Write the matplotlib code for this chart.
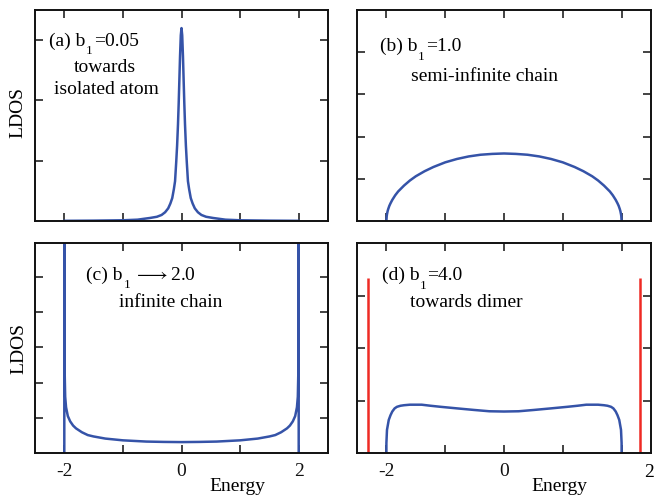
import matplotlib

matplotlib.use("Agg")
import matplotlib.pyplot as plt
from matplotlib.transforms import blended_transform_factory

plt.rcParams["font.family"] = ["Liberation Serif", "DejaVu Serif"]
plt.rcParams["mathtext.fontset"] = "stix"
plt.rcParams["axes.unicode_minus"] = False

BLUE = "#3553a8"
RED = "#ee2a24"
INK = "#111111"
FS = 14
SUB = 9.5

# (a) b1 = 0.05, towards isolated atom
energy_a = [-2.0, -1.5, -1.0, -0.75, -0.54, -0.42, -0.34, -0.28, -0.227, -0.19,
            -0.158, -0.13, -0.11, -0.09, -0.075, -0.06, -0.048, -0.037, -0.025,
            -0.012, 0.0, 0.012, 0.025, 0.037, 0.048, 0.06, 0.075, 0.09, 0.11,
            0.13, 0.158, 0.19, 0.227, 0.28, 0.34, 0.42, 0.54, 0.75, 1.0, 1.5, 2.0]
ldos_a = [0.003, 0.006, 0.012, 0.022, 0.05, 0.07, 0.10, 0.145, 0.21, 0.29,
          0.38, 0.53, 0.66, 0.98, 1.25, 1.6, 1.95, 2.32, 2.73,
          3.08, 3.2, 3.08, 2.73, 2.32, 1.95, 1.6, 1.25, 0.98, 0.66,
          0.53, 0.38, 0.29, 0.21, 0.145, 0.10, 0.07, 0.05, 0.022, 0.012, 0.006, 0.003]

# (b) b1 = 1.0, semi-infinite chain
energy_b = [-2.0, -1.995, -1.99, -1.98, -1.97, -1.95, -1.93, -1.9, -1.85, -1.8,
            -1.7, -1.6, -1.5, -1.35, -1.2, -1.0, -0.8, -0.6, -0.4, -0.2, 0.0,
            0.2, 0.4, 0.6, 0.8, 1.0, 1.2, 1.35, 1.5, 1.6, 1.7, 1.8, 1.85, 1.9,
            1.93, 1.95, 1.97, 1.98, 1.99, 1.995, 2.0]
ldos_b = [0.0, 0.11, 0.16, 0.23, 0.28, 0.36, 0.42, 0.50, 0.61, 0.70,
          0.84, 0.96, 1.06, 1.18, 1.28, 1.39, 1.47, 1.53, 1.57, 1.59, 1.60,
          1.59, 1.57, 1.53, 1.47, 1.39, 1.28, 1.18, 1.06, 0.96, 0.84, 0.70, 0.61, 0.50,
          0.42, 0.36, 0.28, 0.23, 0.16, 0.11, 0.0]

# (c) b1 -> 2.0, infinite chain
energy_c = [-2.0, -2.0, -1.995, -1.985, -1.97, -1.94, -1.9, -1.85, -1.8, -1.7,
            -1.6, -1.5, -1.3, -1.0, -0.6, -0.3, 0.0, 0.3, 0.6, 1.0, 1.3, 1.5,
            1.6, 1.7, 1.8, 1.85, 1.9, 1.94, 1.97, 1.985, 1.995, 2.0, 2.0]
ldos_c = [0.0, 6.5, 2.4, 1.6, 1.3, 1.05, 0.90, 0.78, 0.70, 0.59,
          0.51, 0.47, 0.41, 0.36, 0.325, 0.315, 0.31, 0.315, 0.325, 0.36, 0.41, 0.47,
          0.51, 0.59, 0.70, 0.78, 0.90, 1.05, 1.3, 1.6, 2.4, 6.5, 0.0]

# (d) b1 = 4.0, towards dimer
energy_d = [-2.0, -2.0, -1.99, -1.96, -1.93, -1.90, -1.86, -1.82, -1.76, -1.70,
            -1.6, -1.4, -1.25, -1.08, -0.8, -0.51, -0.25, 0.0, 0.25, 0.51, 0.8,
            1.08, 1.25, 1.4, 1.6, 1.70, 1.76, 1.82, 1.86, 1.90, 1.93, 1.96, 1.99,
            2.0, 2.0]
ldos_d = [0.0, 0.19, 0.44, 0.63, 0.72, 0.79, 0.85, 0.88, 0.90, 0.91,
          0.92, 0.92, 0.90, 0.88, 0.85, 0.82, 0.795, 0.79, 0.795, 0.82, 0.85,
          0.88, 0.90, 0.92, 0.92, 0.91, 0.90, 0.88, 0.85, 0.79, 0.72, 0.63, 0.44,
          0.19, 0.0]
bound_e = [-2.31, 2.31]
bound_h = [3.33, 3.33]

xticks = [-2, -1, 0, 1, 2]
xlabels = ["-2", "", "0", "", "2"]

W, H = 655, 496


def box(x0, y0, x1, y1):
    return [x0 / W, 1 - y1 / H, (x1 - x0) / W, (y1 - y0) / H]


def _style(ax, ytop, yticks, labels=None):
    ax.set_xlim(-2.5, 2.5)
    ax.set_ylim(0, ytop)
    ax.set_xticks(xticks)
    ax.set_xticklabels(labels if labels else [""] * len(xticks))
    ax.set_yticks(yticks)
    ax.set_yticklabels([])
    ax.tick_params(direction="in", top=True, right=True, length=6, width=1.1,
                   labelsize=FS, colors=INK, pad=7)
    for s in ax.spines.values():
        s.set_linewidth(1.4)
        s.set_color(INK)


def _label(ax, x, y, pre, sub, post, gap=0.4):
    # "b" with a low-set subscript, then the rest on the main baseline
    t = ax.text(x, y, pre, transform=ax.transAxes, fontsize=FS, va="baseline")
    s = ax.annotate(sub, xy=(1, 0), xycoords=t, xytext=(0.6, -1.3),
                    textcoords="offset points", fontsize=SUB, va="center")
    ax.annotate(post, xy=(1, 0), xycoords=(s, t), xytext=(gap, 0),
                textcoords="offset points", fontsize=FS, va="bottom")


fig = plt.figure(figsize=(6.55, 4.96), dpi=100)
ax_a = fig.add_axes(box(35, 10, 328, 221))
ax_b = fig.add_axes(box(357, 10, 651, 221))
ax_c = fig.add_axes(box(35, 243, 328, 453))
ax_d = fig.add_axes(box(357, 243, 651, 453))

ax_a.plot(energy_a, ldos_a, color=BLUE, lw=1.8)
_style(ax_a, 3.5, [1, 2, 3])
_label(ax_a, 0.048, 0.832, "(a) b", "1", "=0.05")
ax_a.text(0.24, 0.708, "towards", transform=ax_a.transAxes, fontsize=FS, va="baseline", ha="center")
ax_a.text(0.243, 0.600, "isolated atom", transform=ax_a.transAxes, fontsize=FS, va="baseline", ha="center")

ax_b.plot(energy_b, ldos_b, color=BLUE, lw=1.8)
_style(ax_b, 5.0, [1, 2, 3, 4])
_label(ax_b, 0.078, 0.807, "(b) b", "1", "=1.0")
ax_b.text(0.184, 0.664, "semi-infinite chain", transform=ax_b.transAxes, fontsize=FS, va="baseline")

ax_c.plot(energy_c, ldos_c, color=BLUE, lw=1.8)
_style(ax_c, 5.97, [1, 2, 3, 4, 5], xlabels)
_label(ax_c, 0.174, 0.826, "(c) b", "1", r"$\longrightarrow$2.0", gap=3.0)
ax_c.text(0.288, 0.694, "infinite chain", transform=ax_c.transAxes, fontsize=FS, va="baseline")

ax_d.plot(energy_d, ldos_d, color=BLUE, lw=1.8)
ax_d.vlines(bound_e, 0, bound_h, color=RED, lw=1.8)
_style(ax_d, 4.0, [1, 2, 3], ["-2", "", "0", "", ""])
_label(ax_d, 0.084, 0.824, "(d) b", "1", "=4.0")
ax_d.text(0.180, 0.694, "towards dimer", transform=ax_d.transAxes, fontsize=FS, va="baseline")
tr = blended_transform_factory(ax_d.transData, ax_d.transAxes)
ax_d.text(2.47, -0.052, "2", transform=tr, fontsize=FS, ha="center", va="top")

for ax in (ax_c, ax_d):
    ax.text(0.69, -0.2, "Energy", transform=ax.transAxes, fontsize=FS, ha="center", va="bottom")

fig.text(18 / W, 1 - 112.5 / H, "LDOS", rotation=90, fontsize=FS, ha="center", va="center")
fig.text(19 / W, 1 - 349 / H, "LDOS", rotation=90, fontsize=FS, ha="center", va="center")

fig.savefig("out.png", dpi=100)
